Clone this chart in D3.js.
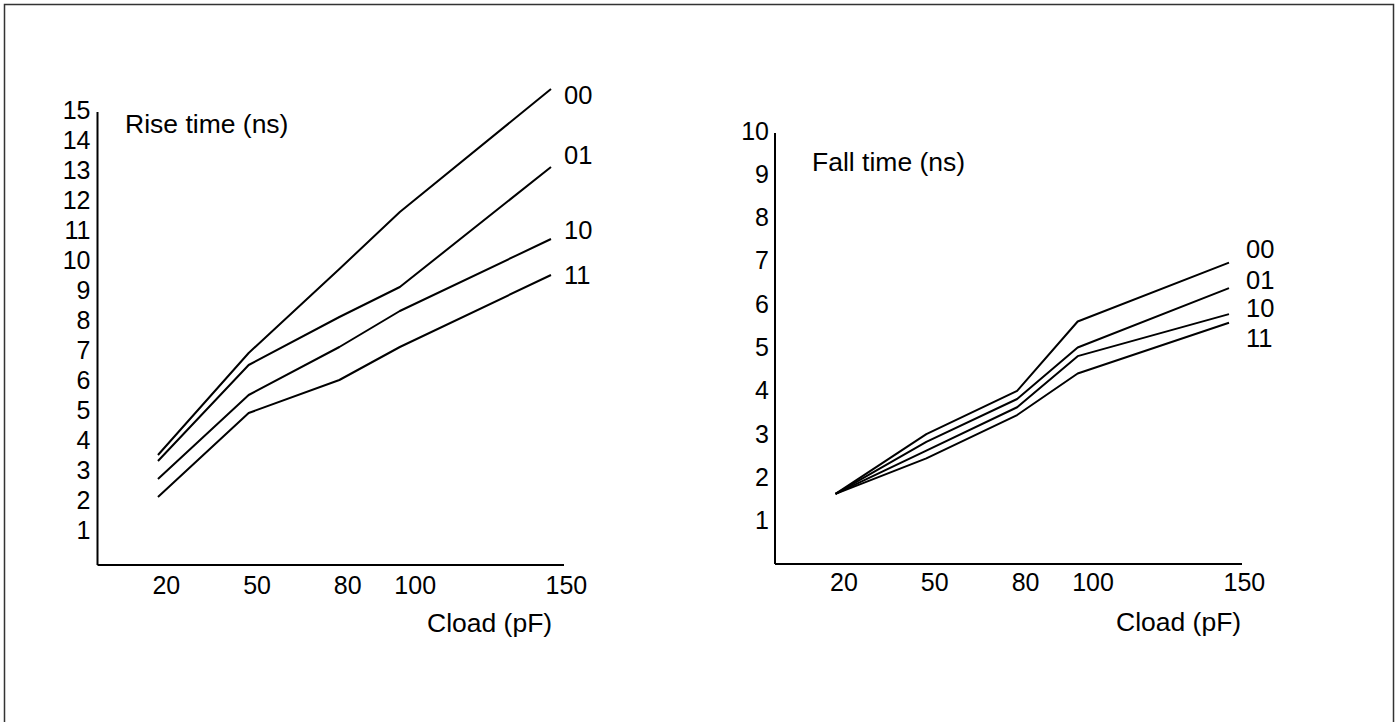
<!DOCTYPE html>
<html>
<head>
<meta charset="utf-8">
<script src="https://cdn.jsdelivr.net/npm/d3@7"></script>
<style>
  html, body { margin: 0; padding: 0; background: #fff; }
  svg { display: block; font-family: "Liberation Sans", Arial, sans-serif; }
</style>
</head>
<body>
<svg id="chart" width="1399" height="722"></svg>
<script>
// Data
const cload = [20, 50, 80, 100, 150];
const seriesNames = ["00", "01", "10", "11"];

const riseTime = [
  [3.5, 6.9, 9.7, 11.6, 15.7],   // 00
  [3.3, 6.5, 8.1, 9.1, 13.1],    // 01
  [2.7, 5.5, 7.1, 8.3, 10.7],    // 10
  [2.1, 4.9, 6.0, 7.1, 9.5]      // 11
];
const riseLabelAt = [15.5, 13.5, 11.0, 9.5];
const riseTicks = d3.range(1, 16);

const fallTime = [
  [1.62, 3.0, 4.0, 5.6, 6.96],   // 00
  [1.62, 2.82, 3.81, 5.0, 6.37], // 01
  [1.62, 2.62, 3.62, 4.8, 5.77], // 10
  [1.62, 2.44, 3.44, 4.4, 5.57]  // 11
];
const fallLabelAt = [7.27, 6.56, 5.91, 5.23];
const fallTicks = d3.range(1, 11);

const svg = d3.select("#chart");

// outer frame
svg.append("rect")
  .attr("x", 4.5).attr("y", 4.5)
  .attr("width", 1389).attr("height", 722)
  .attr("fill", "none")
  .attr("stroke", "#333")
  .attr("stroke-width", 1.5);

const line = (x, y) => d3.line().x((d, i) => x(cload[i])).y(d => y(d));

function drawPanel(opt) {
  const x = d3.scaleLinear().domain([0, 150]).range([opt.x0, opt.x150]);
  const y = d3.scaleLinear().domain([0, opt.yMax]).range([opt.y0, opt.yTop]);
  const g = svg.append("g");

  // axis lines
  g.append("line")
    .attr("x1", x(0)).attr("x2", x(0))
    .attr("y1", opt.axisBottom).attr("y2", opt.axisTop)
    .attr("stroke", "#000").attr("stroke-width", 2);
  g.append("line")
    .attr("x1", x(0)).attr("x2", opt.axisRight)
    .attr("y1", opt.axisBottom).attr("y2", opt.axisBottom)
    .attr("stroke", "#000").attr("stroke-width", 2);

  // y tick labels
  const yAxis = g.append("g")
    .attr("transform", `translate(${x(0)},0)`)
    .call(d3.axisLeft(y).tickValues(opt.ticks).tickSize(0).tickPadding(opt.yPad).tickFormat(d3.format("d")));
  yAxis.select(".domain").remove();
  yAxis.selectAll("text")
    .attr("font-size", 25).attr("fill", "#000")
    .attr("font-family", "Liberation Sans, Arial, sans-serif");

  // x tick labels (roughly left-aligned on data position)
  const xAxis = g.append("g")
    .attr("transform", `translate(0,${opt.axisBottom})`)
    .call(d3.axisBottom(x).tickValues(cload).tickSize(0).tickPadding(opt.xPad).tickFormat(d3.format("d")));
  xAxis.select(".domain").remove();
  xAxis.selectAll("text")
    .attr("text-anchor", "start")
    .attr("dx", -6)
    .attr("font-size", 25).attr("fill", "#000")
    .attr("font-family", "Liberation Sans, Arial, sans-serif");

  // series lines
  g.selectAll(".series")
    .data(opt.values)
    .enter().append("path")
    .attr("class", "series")
    .attr("d", d => line(x, y)(d))
    .attr("fill", "none")
    .attr("stroke", "#000")
    .attr("stroke-width", 2)
    .attr("stroke-linejoin", "round");

  // series labels
  g.selectAll(".slabel")
    .data(seriesNames)
    .enter().append("text")
    .attr("x", x(150) + opt.labelDx)
    .attr("y", (d, i) => y(opt.labelAt[i]))
    .attr("dy", "0.36em")
    .attr("font-size", 25.5)
    .text(d => d);

  // titles
  g.append("text")
    .attr("x", opt.titleX).attr("y", opt.titleY)
    .attr("font-size", 26.5)
    .text(opt.title);
  g.append("text")
    .attr("x", opt.xTitleX).attr("y", opt.xTitleY)
    .attr("font-size", 26.5)
    .text("Cload (pF)");
}

drawPanel({
  values: riseTime, labelAt: riseLabelAt, ticks: riseTicks, yMax: 15,
  x0: 97.5, x150: 551, y0: 560, yTop: 110,
  axisTop: 112, axisBottom: 565, axisRight: 564,
  yPad: 7, xPad: 11, labelDx: 13,
  title: "Rise time (ns)", titleX: 125, titleY: 133,
  xTitleX: 427, xTitleY: 632
});

drawPanel({
  values: fallTime, labelAt: fallLabelAt, ticks: fallTicks, yMax: 10,
  x0: 775, x150: 1229, y0: 564, yTop: 131,
  axisTop: 133, axisBottom: 564, axisRight: 1242,
  yPad: 6, xPad: 9, labelDx: 17,
  title: "Fall time (ns)", titleX: 812, titleY: 171,
  xTitleX: 1116, xTitleY: 631
});
</script>
</body>
</html>
